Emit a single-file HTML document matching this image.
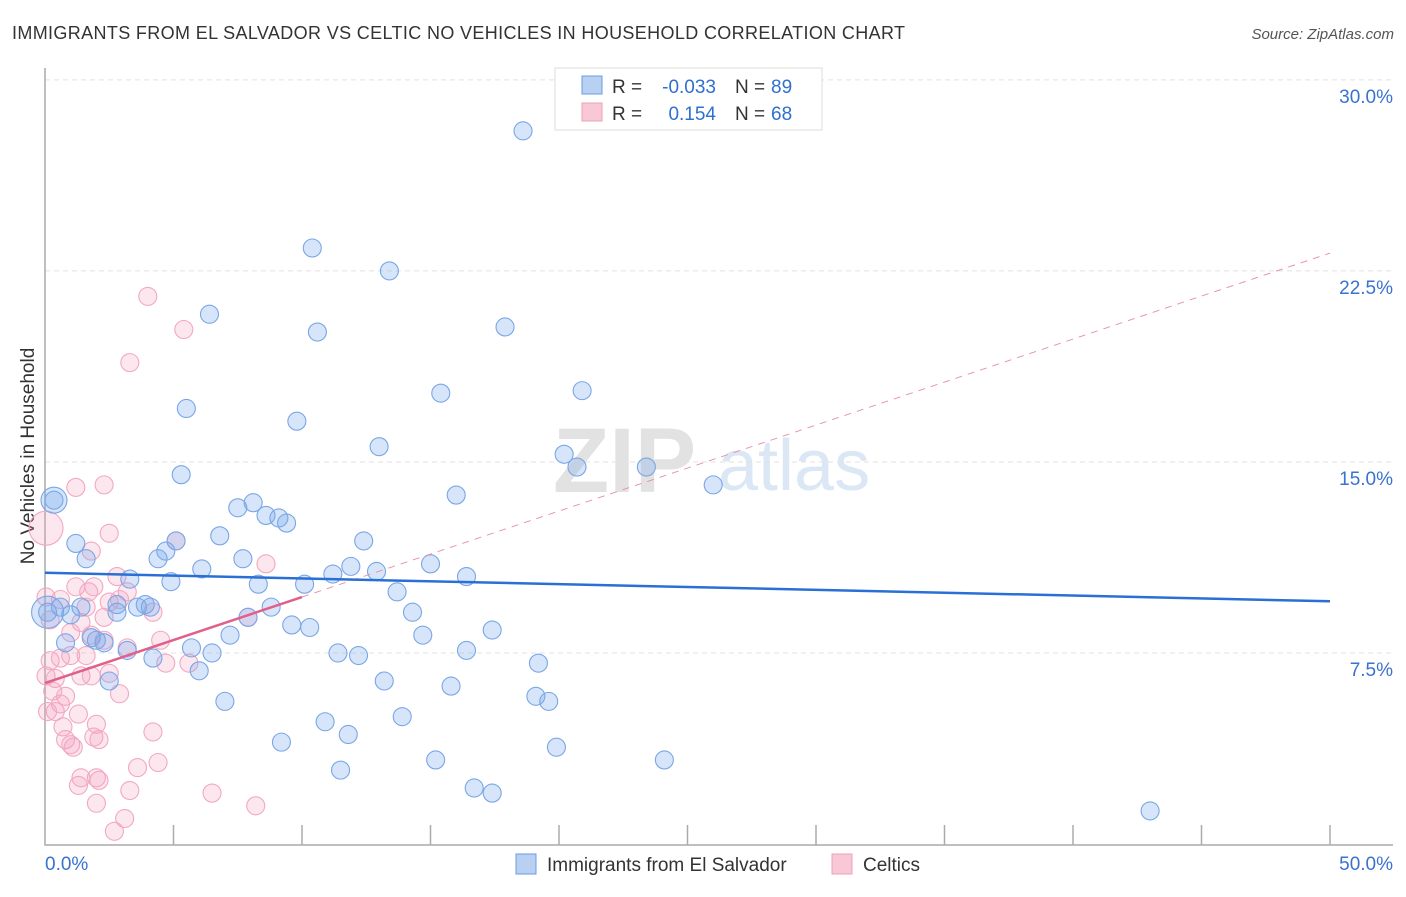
<!DOCTYPE html>
<html><head><meta charset="utf-8"><style>
body{margin:0;background:#fff;font-family:"Liberation Sans",sans-serif;}
svg text{font-family:"Liberation Sans",sans-serif;}
</style></head><body>
<svg id="chart" width="1406" height="892">
<text x="12" y="39" font-size="18" fill="#333" textLength="893">IMMIGRANTS FROM EL SALVADOR VS CELTIC NO VEHICLES IN HOUSEHOLD CORRELATION CHART</text>
<text x="1394" y="39" font-size="15" fill="#555" font-style="italic" text-anchor="end">Source: ZipAtlas.com</text>
<g><text x="553" y="492" font-size="92" fill="#e2e2e2" font-family="Liberation Serif" font-weight="bold">ZIP</text><text x="718" y="490" font-size="72" fill="#dbe7f5">atlas</text></g>
<text transform="translate(34,456) rotate(-90)" font-size="19" fill="#333" text-anchor="middle">No Vehicles in Household</text>
<g id="grid"></g><g id="axes"></g><g id="pts"></g><g id="lines"></g>
<g>
<rect x="555" y="68" width="267" height="62" fill="#fff" stroke="#ddd"/>
<rect x="582" y="76" width="20" height="18" fill="#b8d0f2" stroke="#6b9be0"/>
<rect x="582" y="103" width="20" height="18" fill="#f8c8d6" stroke="#f0a0b8"/>
<text x="612" y="93" font-size="19" fill="#333">R =</text>
<text x="716" y="93" font-size="19" fill="#2f6fd0" text-anchor="end">-0.033</text>
<text x="735" y="93" font-size="19" fill="#333">N =</text>
<text x="771" y="93" font-size="19" fill="#2f6fd0">89</text>
<text x="612" y="120" font-size="19" fill="#333">R =</text>
<text x="716" y="120" font-size="19" fill="#2f6fd0" text-anchor="end">0.154</text>
<text x="735" y="120" font-size="19" fill="#333">N =</text>
<text x="771" y="120" font-size="19" fill="#2f6fd0">68</text>
</g>
<g>
<rect x="516" y="854" width="20" height="20" fill="#b8d0f2" stroke="#6b9be0"/>
<text x="547" y="871" font-size="19" fill="#333">Immigrants from El Salvador</text>
<rect x="832" y="854" width="20" height="20" fill="#f8c8d6" stroke="#f0a0b8"/>
<text x="863" y="871" font-size="19" fill="#333">Celtics</text>
</g>
</svg>
<script>
const xTicks=[0,5,10,15,20,25,30,35,40,45,50];
const yTicks=[7.5,15,22.5,30];
const yTickLabels=["7.5%","15.0%","22.5%","30.0%"];
const xEndLabels=["0.0%","50.0%"];
const blueX=[18.6,10.4,13.4,6.4,10.6,17.9,20.9,15.4,5.5,9.8,13.0,20.2,20.7,23.4,5.3,16.0,26.0,0.35,8.1,7.5,8.6,9.1,9.4,6.8,12.4,1.2,5.1,1.6,4.4,4.7,6.1,7.7,15.0,11.9,12.9,11.2,16.4,3.3,4.9,8.3,10.1,13.7,0.1,0.6,1.0,1.4,2.8,3.6,3.9,4.1,2.8,8.8,14.3,7.9,9.6,10.3,7.2,14.7,1.8,2.0,2.3,0.8,3.2,4.2,5.7,6.5,6.0,11.4,12.2,16.4,17.4,19.2,2.5,13.2,15.8,7.0,19.1,19.6,13.9,10.9,11.8,9.2,19.9,15.2,24.1,11.5,16.7,17.4,43.0];
const blueY=[28.0,23.4,22.5,20.8,20.1,20.3,17.8,17.7,17.1,16.6,15.6,15.3,14.8,14.8,14.5,13.7,14.1,13.5,13.4,13.2,12.9,12.8,12.6,12.1,11.9,11.8,11.9,11.2,11.2,11.5,10.8,11.2,11.0,10.9,10.7,10.6,10.5,10.4,10.3,10.2,10.2,9.9,9.1,9.3,9.0,9.3,9.4,9.3,9.4,9.3,9.1,9.3,9.1,8.9,8.6,8.5,8.2,8.2,8.1,8.0,7.9,7.9,7.6,7.3,7.7,7.5,6.8,7.5,7.4,7.6,8.4,7.1,6.4,6.4,6.2,5.6,5.8,5.6,5.0,4.8,4.3,4.0,3.8,3.3,3.3,2.9,2.2,2.0,1.3];
const blueBig=[[0.35,13.5,13],[0.1,9.1,16]];
const pinkX=[4.0,5.4,3.3,1.2,2.3,2.5,1.8,5.1,8.6,2.8,1.2,1.7,1.9,3.2,2.5,2.9,1.4,4.2,2.3,7.9,1.8,2.3,3.2,0.2,0.6,1.0,4.7,5.6,0.04,0.4,1.4,1.8,2.5,1.6,2.9,0.3,0.8,0.6,0.4,0.1,1.3,0.7,2.0,0.8,1.0,1.1,1.9,2.1,4.2,1.4,2.0,2.1,1.3,4.4,3.6,3.3,6.5,2.0,8.2,3.1,2.7,4.5,1.0,1.6,0.6,0.04,0.2];
const pinkY=[21.5,20.2,18.9,14.0,14.1,12.2,11.5,11.9,11.0,10.5,10.1,9.9,10.1,9.9,9.5,9.6,8.7,9.1,8.9,8.9,8.2,8.0,7.7,7.2,7.3,7.4,7.1,7.1,6.6,6.5,6.6,6.6,6.7,7.4,5.9,6.0,5.8,5.5,5.2,5.2,5.1,4.6,4.7,4.1,3.9,3.8,4.2,4.1,4.4,2.6,2.6,2.5,2.3,3.2,3.0,2.1,2.0,1.6,1.5,1.0,0.5,8.0,8.3,9.3,9.6,9.7,8.8];
const pinkBig=[[0.04,12.4,17]];
const blueTrend=[10.65,9.53];
const pinkTrend=[6.32,23.2];
const pinkSolidEnd=10;
const X=v=>45+v*25.7, Y=v=>844-v*25.47;
const NS="http://www.w3.org/2000/svg";
function mk(p,t,a){const e=document.createElementNS(NS,t);for(const k in a)e.setAttribute(k,a[k]);document.getElementById(p).appendChild(e);return e;}
yTicks.forEach((t,i)=>{
 const g=mk('grid','line',{x1:45,x2:1393,y1:Y(t),y2:Y(t),stroke:'#e2e2e2','stroke-dasharray':'5,4'});
 
 
 const l=mk('grid','text',{x:1393,y:Y(t)+23,'font-size':19,fill:'#3a72d0','text-anchor':'end'});l.textContent=yTickLabels[i];
 
 
});
const ax=mk('axes','path',{d:'M45,68V845H1393',fill:'none',stroke:'#aaa','stroke-width':1.5});


xTicks.forEach(t=>{if(t>0){const k=mk('axes','line',{x1:X(t),x2:X(t),y1:825,y2:845,stroke:'#aaa','stroke-width':1.5});

}});
const l0=mk('axes','text',{x:45,y:870,'font-size':19,fill:'#3a72d0'});l0.textContent=xEndLabels[0];


const l1=mk('axes','text',{x:1393,y:870,'font-size':19,fill:'#3a72d0','text-anchor':'end'});l1.textContent=xEndLabels[1];


function pt(x,y,r,c){const f=c==='b'?{fill:'rgba(120,170,235,0.3)',stroke:'#7aa6e6'}:{fill:'rgba(245,160,190,0.25)',stroke:'#f2a8c0'};
 const e=mk('pts','circle',{cx:X(x),cy:Y(y),r:r,fill:f.fill,stroke:f.stroke,'stroke-width':1.1});
 
 }
pinkX.forEach((x,i)=>pt(x,pinkY[i],9,'p'));
pinkBig.forEach(b=>pt(b[0],b[1],b[2],'p'));
blueX.forEach((x,i)=>pt(x,blueY[i],9,'b'));
blueBig.forEach(b=>pt(b[0],b[1],b[2],'b'));
const pe=pinkTrend[0]+(pinkTrend[1]-pinkTrend[0])*pinkSolidEnd/50;
const pd=mk('lines','line',{x1:X(pinkSolidEnd),y1:Y(pe),x2:X(50),y2:Y(pinkTrend[1]),stroke:'#e890a8','stroke-dasharray':'7,6','stroke-width':1});


const ps=mk('lines','line',{x1:X(0),y1:Y(pinkTrend[0]),x2:X(pinkSolidEnd),y2:Y(pe),stroke:'#e0608a','stroke-width':2.5});


const bl=mk('lines','line',{x1:X(0),y1:Y(blueTrend[0]),x2:X(50),y2:Y(blueTrend[1]),stroke:'#2a6fd6','stroke-width':2.5});


</script>
</body></html>
